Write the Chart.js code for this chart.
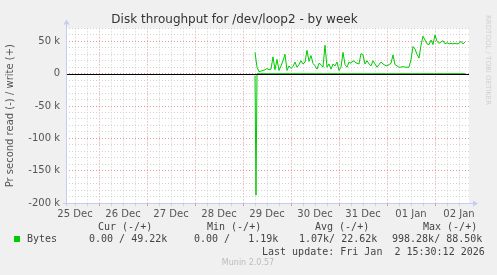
<!DOCTYPE html>
<html>
<head>
<meta charset="utf-8">
<script src="https://cdn.jsdelivr.net/npm/chart.js@4.4.1/dist/chart.umd.min.js"></script>
<style>
body{margin:0;background:#f0f0f0;}
canvas{display:block;}
</style>
</head>
<body>
<canvas id="myChart" width="497" height="275"></canvas>
<script>
// x values are hours counted from 25 Dec 00:00, y values are in k (bytes/s)
var dayLabels = ["25 Dec","26 Dec","27 Dec","28 Dec","29 Dec","30 Dec","31 Dec","01 Jan","02 Jan"];
var xMin = 7.5, xMax = 209;
var yMin = -200, yMax = 70;

var writeStart = 102, writeStep = 1;
var writeValues = [33,10,3,4,5,6,8,6,7,26,
  6,22,5,12,20,30,5,12,8,11,
  18,10,14,20,15,18,36,19,28,16,
  12,7,16,14,10,44,10,15,7,15,
  12,18,5,10,33,14,10,18,16,20,
  18,16,15,31,29,15,20,15,12,20,
  15,10,14,18,15,13,12,14,16,29,
  14,12,10,10,11,10,10,10,22,42,
  38,30,24,44,58,52,46,45,52,45,
  60,50,47,49,51,46,48,46,47,46,
  47,46,47,50,46,49];

var readHours = [102, 102.5, 103, 207];
var readValues = [-3, -188, 0, 0];

var legendHead = [["Cur (-/+)",98],["Min (-/+)",207],["Avg (-/+)",315],["Max (-/+)",423]];
var legendVals = [["0.00 / 49.22k",89],["0.00 /   1.19k",194],["1.07k/ 22.62k",299],["998.28k/ 88.50k",392]];
var lastUpdate = "Last update: Fri Jan  2 15:30:12 2026";

var green = "#00cc00";
var redGrid = "rgba(225,130,130,0.85)";
var grayGrid = "#d2d2d2";
var axisCol = "#c6cdf2";

var writePts = writeValues.map(function(v,i){ return {x: writeStart + i*writeStep, y: v}; });
var readPts = readValues.map(function(v,i){ return {x: readHours[i], y: v}; });

var muninPlugin = {
  id: "munin",
  beforeDraw: function(chart){
    var c = chart.ctx, a = chart.chartArea;
    c.save();
    c.fillStyle = "#ffffff";
    c.fillRect(a.left, a.top, a.right - a.left, a.bottom - a.top);
    c.restore();
  },
  afterDatasetsDraw: function(chart){
    var c = chart.ctx, a = chart.chartArea;
    var y0 = Math.round(chart.scales.y.getPixelForValue(0)) + 0.5;
    c.save();
    c.strokeStyle = "#000";
    c.lineWidth = 1;
    c.beginPath(); c.moveTo(a.left, y0); c.lineTo(a.right, y0); c.stroke();
    c.restore();
  },
  afterDraw: function(chart){
    var c = chart.ctx, a = chart.chartArea;
    c.save();
    // axes with arrows
    c.strokeStyle = axisCol; c.fillStyle = axisCol; c.lineWidth = 1;
    var lx = Math.round(a.left) + 0.5, by = Math.round(a.bottom) + 0.5;
    c.beginPath(); c.moveTo(lx, a.bottom + 3); c.lineTo(lx, a.top - 4); c.stroke();
    c.beginPath(); c.moveTo(lx - 3, a.top - 4); c.lineTo(lx + 3, a.top - 4); c.lineTo(lx, a.top - 9); c.closePath(); c.fill();
    c.beginPath(); c.moveTo(a.left - 3, by); c.lineTo(a.right + 4, by); c.stroke();
    c.beginPath(); c.moveTo(a.right + 4, by - 3); c.lineTo(a.right + 4, by + 3); c.lineTo(a.right + 9, by); c.closePath(); c.fill();

    // legend
    c.font = "10px 'DejaVu Sans Mono'";
    c.fillStyle = "#444";
    c.textBaseline = "middle";
    c.textAlign = "left";
    legendHead.forEach(function(h){ c.fillText(h[0], h[1], 227); });
    c.fillText("Bytes", 27, 239);
    legendVals.forEach(function(h){ c.fillText(h[0], h[1], 239); });
    c.fillText(lastUpdate, 262, 252);
    c.fillStyle = green;
    c.fillRect(14, 236, 6, 6);

    c.font = "8px 'DejaVu Sans'";
    c.fillStyle = "#bbbbbb";
    c.textAlign = "center";
    c.fillText("Munin 2.0.57", 248, 263);

    c.translate(488, 15);
    c.rotate(Math.PI / 2);
    c.textAlign = "left";
    c.fillStyle = "#d0d0d0";
    c.font = "7px 'DejaVu Sans'";
    c.fillText("RRDTOOL / TOBI OETIKER", 0, 0);
    c.restore();
  }
};

Chart.defaults.font.family = "'DejaVu Sans'";

const myChart = new Chart("myChart", {
  type: "line",
  data: {
    datasets: [
      {data: writePts, borderColor: green, borderWidth: 1, pointRadius: 0, tension: 0, fill: false},
      {data: readPts, borderColor: green, borderWidth: 1, pointRadius: 0, tension: 0, fill: false}
    ]
  },
  options: {
    responsive: false,
    animation: false,
    devicePixelRatio: 1,
    layout: {padding: {left: 0, right: 28, top: 0, bottom: 52}},
    plugins: {
      legend: {display: false},
      tooltip: {enabled: false},
      title: {
        display: true,
        text: "Disk throughput for /dev/loop2 - by week",
        color: "#333",
        font: {size: 12, weight: "normal"},
        padding: {top: 13, bottom: 1}
      }
    },
    scales: {
      x: {
        type: "linear",
        min: xMin, max: xMax,
        afterFit: function(s){ s.height = 20; },
        ticks: {
          stepSize: 6, includeBounds: false, autoSkip: false, maxRotation: 0, maxTicksLimit: 100,
          color: "#555", font: {size: 10}, padding: 2,
          callback: function(v){ return (v % 24 === 12) ? dayLabels[(v - 12) / 24] : ""; }
        },
        grid: {
          color: function(ctx){ return ctx.tick && ctx.tick.value % 24 === 0 ? redGrid : grayGrid; },
          tickColor: function(ctx){ return ctx.tick && ctx.tick.value % 24 === 0 ? redGrid : grayGrid; },
          tickLength: 3, lineWidth: 1
        },
        border: {display: false, dash: [1, 2]}
      },
      y: {
        type: "linear",
        min: yMin, max: yMax,
        afterFit: function(s){ s.width = 66; },
        title: {display: true, text: "Pr second read (-) / write (+)", color: "#555", font: {size: 10}, padding: {top: 4, bottom: 0}},
        ticks: {
          stepSize: 10, includeBounds: false, autoSkip: false, maxTicksLimit: 100,
          color: "#555", font: {size: 10}, padding: 6,
          callback: function(v){ return v % 50 === 0 ? (v === 0 ? "0" : v + " k") : ""; }
        },
        grid: {
          color: function(ctx){ return ctx.tick && ctx.tick.value % 50 === 0 ? redGrid : grayGrid; },
          drawTicks: false, lineWidth: 1
        },
        border: {display: false, dash: [1, 2]}
      }
    }
  },
  plugins: [muninPlugin]
});
</script>
</body>
</html>
